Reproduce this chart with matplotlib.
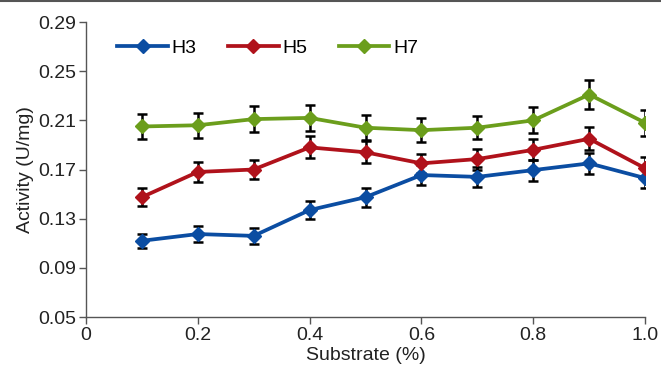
import matplotlib
matplotlib.use("Agg")
import matplotlib.pyplot as plt
from matplotlib.lines import Line2D

plt.rcParams['font.family'] = ['Liberation Sans', 'DejaVu Sans']

# substrate concentration (%)
substrate = [0.1, 0.2, 0.3, 0.4, 0.5, 0.6, 0.7, 0.8, 0.9, 1.0]

# activity (U/mg) and error bars
h3 = [0.112, 0.1175, 0.116, 0.137, 0.1475, 0.1655, 0.164, 0.1695, 0.175, 0.163]
h3_err = [0.0055, 0.0065, 0.0065, 0.007, 0.0077, 0.0085, 0.008, 0.0085, 0.0085, 0.008]

h5 = [0.1475, 0.168, 0.170, 0.188, 0.184, 0.175, 0.1785, 0.186, 0.195, 0.171]
h5_err = [0.0073, 0.008, 0.008, 0.009, 0.009, 0.008, 0.0085, 0.0085, 0.0095, 0.009]

h7 = [0.205, 0.206, 0.211, 0.212, 0.204, 0.202, 0.204, 0.210, 0.231, 0.208]
h7_err = [0.0098, 0.01, 0.0105, 0.0105, 0.01, 0.0095, 0.0095, 0.0105, 0.0115, 0.0105]

yticks = [0.05, 0.09, 0.13, 0.17, 0.21, 0.25, 0.29]
xticks = [0, 0.2, 0.4, 0.6, 0.8, 1.0]
xtick_labels = ["0", "0.2", "0.4", "0.6", "0.8", "1.0"]

series = [
    ("H3", h3, h3_err, "#0b4da2"),
    ("H5", h5, h5_err, "#b0121b"),
    ("H7", h7, h7_err, "#6b9e1c"),
]

fs = 14

fig = plt.figure(figsize=(6.61, 3.65), dpi=100)
ax = fig.add_axes([0.130, 0.1315, 0.846, 0.8082])

for name, vals, err, col in series:
    ax.errorbar(substrate, vals, yerr=err, fmt="none", ecolor="black",
                elinewidth=1.8, capsize=3.8, capthick=1.8, zorder=2)
    ax.plot(substrate, vals, color=col, lw=2.7, marker="D", ms=7.5,
            label=name, zorder=3)

ax.set_xlim(0, 1.0)
ax.set_ylim(0.05, 0.29)
ax.set_xticks(xticks)
ax.set_xticklabels(xtick_labels)
ax.set_yticks(yticks)
ax.set_yticklabels([f"{v:.2f}" for v in yticks])

for s in ["top", "right"]:
    ax.spines[s].set_visible(False)
for s in ["left", "bottom"]:
    ax.spines[s].set_color("#555555")
    ax.spines[s].set_linewidth(1.0)
ax.tick_params(direction="out", length=5, width=1, color="#555555",
               labelsize=fs, labelcolor="#222222", pad=2)

ax.set_xlabel("Substrate (%)", fontsize=fs, color="#222222", labelpad=2)
ax.set_ylabel("Activity (U/mg)", fontsize=fs, color="#222222", labelpad=3)

ax.legend(loc="upper left", ncol=3, frameon=False, fontsize=fs,
          handlelength=2.6, columnspacing=1.6, handletextpad=0.2,
          bbox_to_anchor=(0.025, 1.0))

# thin frame line at the top of the image
fig.add_artist(Line2D([0, 1], [0.997, 0.997], transform=fig.transFigure,
                      color="#555555", lw=1.5))

fig.savefig("out.png", dpi=100)
